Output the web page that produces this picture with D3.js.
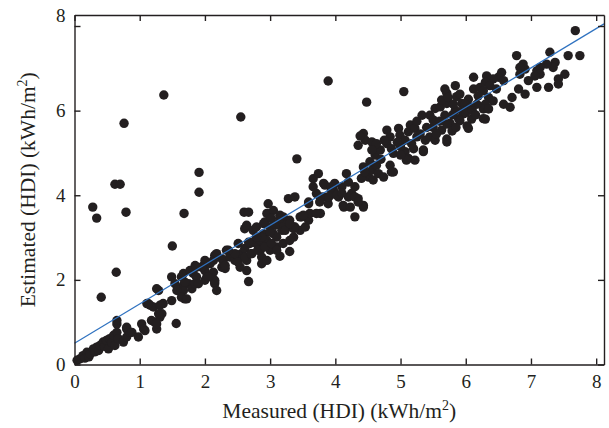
<!DOCTYPE html>
<html>
<head>
<meta charset="utf-8">
<script src="https://cdn.jsdelivr.net/npm/d3@7/dist/d3.min.js"></script>
<style>
  body { margin: 0; background: #fff; }
  svg { display: block; }
  .tick text { font-family: "Liberation Serif", "DejaVu Serif", serif; font-size: 19px; fill: #231f20; }
  .tick line, .domain { stroke: #231f20; stroke-width: 1.4; }
  .title { font-family: "Liberation Serif", "DejaVu Serif", serif; font-size: 21.5px; fill: #231f20; }
</style>
</head>
<body>
<div id="chart"></div>
<script>
'use strict';

// measured / estimated HDI (kWh/m2)
var measured = [
  0.28, 0.34, 0.41, 0.64, 0.62, 0.70, 0.79, 0.76, 1.37, 1.68, 1.91, 1.91, 1.50, 1.56, 2.55, 3.41, 3.89, 5.05, 4.48, 2.60,
  2.67, 2.64, 2.67, 2.97, 3.28,
  0.04, 0.08, 0.13, 0.16, 0.19, 0.22, 0.24, 0.29, 0.31, 0.34, 0.37, 0.39, 0.44, 0.46, 0.49, 0.54, 0.52, 0.57, 0.60, 0.62,
  0.65, 0.65, 0.65, 0.67, 0.75, 0.80, 0.80, 0.85, 0.80, 0.88, 0.98, 1.03, 1.06, 1.08, 1.11, 1.16, 1.21, 1.23, 1.26, 1.29,
  1.31, 1.34, 1.36, 1.18, 1.26, 1.29, 1.31, 1.13, 1.26, 1.49, 1.49, 1.64, 1.67, 1.67, 1.69, 1.75, 1.80, 1.82, 1.85, 1.98,
  2.00, 2.03, 2.15, 2.18, 2.15, 2.26, 2.26, 2.13, 1.54, 1.57, 1.64, 1.67, 1.69, 1.72, 1.77, 1.85, 1.87, 2.00, 2.13, 2.15,
  2.18, 2.28, 2.31, 2.38, 2.46, 2.51, 2.56, 2.61, 2.64, 2.69, 2.72, 2.74, 2.82, 2.85, 2.90, 2.95, 2.97, 3.00, 3.05, 3.10,
  3.13, 3.18, 3.20, 3.25, 3.30, 3.36, 3.38, 3.46, 3.56, 3.59, 2.61, 2.64, 2.74, 2.79, 2.90, 2.95, 3.05, 3.15, 2.54, 2.33,
  2.85, 2.87, 3.00, 3.10, 3.20, 3.30, 3.36, 3.46, 3.54, 3.59, 3.30, 3.15,
  3.66, 3.74, 3.66, 3.84, 3.94, 3.99, 4.10, 4.13, 3.89, 3.77, 3.59, 3.77, 3.61, 3.48, 3.38, 2.92, 3.02, 3.08, 3.20, 3.23,
  3.36, 2.87, 2.79, 2.67, 2.51, 2.46, 2.36, 2.08, 2.00, 1.95, 1.87, 2.15, 1.90, 2.05, 2.31, 2.51, 2.61, 2.71, 2.81, 2.92,
  3.02, 3.10, 2.87, 2.95, 4.05,
  3.82, 3.97, 4.17, 4.20, 4.25, 4.35, 4.43, 4.12, 4.30, 4.51, 4.56, 4.58, 4.66, 4.74, 4.86, 4.63, 4.53, 4.61, 4.69, 4.43,
  4.46, 4.56, 4.63, 4.79, 4.84, 4.79, 4.86, 4.89, 4.97, 4.99, 5.07, 5.12, 5.15, 5.22, 5.25, 5.17, 5.07, 5.12, 5.22, 5.35,
  5.38, 5.45, 5.33, 5.45, 5.50, 5.53, 5.61, 5.68, 5.71, 5.76, 5.63, 5.71, 5.53, 5.84, 5.89, 5.94, 5.86, 5.71, 5.63, 3.71,
  3.82, 3.89, 4.23, 4.84, 4.35, 4.56, 4.38, 4.43,
  7.68, 7.75, 7.57, 7.29, 7.37, 7.34, 7.52, 7.42, 7.42, 7.24, 7.14, 7.09, 7.14, 7.06, 6.96, 6.91, 6.88, 6.83, 6.78, 6.83,
  7.09, 7.27, 6.91, 6.81, 6.71, 6.58, 6.68, 6.55, 6.50, 6.58, 6.42, 6.32, 6.30, 6.37, 6.47, 6.12, 6.12, 6.22, 6.27, 6.19,
  6.35, 6.42, 6.30, 6.27, 6.35, 6.17, 6.04, 5.99, 6.07, 5.91, 5.84, 5.68, 5.73, 5.81, 5.96, 6.09, 5.91, 6.02, 5.71, 5.79,
  5.71, 6.30, 6.27, 6.04, 5.35, 5.09, 4.89,
  4.43, 3.94, 3.90, 4.02, 4.20, 4.30, 4.35, 3.51, 3.71, 3.76, 3.00, 3.15, 3.30,
  5.00, 5.20, 5.30, 5.50, 5.60, 5.80, 5.95, 6.00, 5.55, 5.85, 6.10, 6.15, 5.40, 5.25, 5.00, 4.95, 4.70, 4.75,
  4.30, 4.40, 4.45, 4.10
];
var estimated = [
  3.72, 3.46, 1.59, 2.18, 4.26, 4.26, 3.60, 5.70, 6.37, 3.57, 4.54, 4.07, 2.80, 0.97, 5.85, 4.86, 6.70, 6.45, 6.20, 3.60,
  3.60, 2.22, 1.96, 3.80, 3.92,
  0.10, 0.13, 0.21, 0.15, 0.29, 0.18, 0.25, 0.37, 0.30, 0.41, 0.33, 0.45, 0.53, 0.43, 0.57, 0.61, 0.37, 0.52, 0.69, 0.45,
  0.76, 0.96, 1.04, 0.61, 0.53, 0.65, 0.84, 0.76, 0.88, 0.76, 0.65, 0.96, 0.84, 0.80, 1.44, 1.40, 1.36, 1.00, 0.84, 1.75,
  1.12, 1.20, 1.44, 1.04, 0.96, 1.20, 1.40, 1.44, 1.79, 1.51, 2.07, 2.07, 1.87, 1.75, 1.55, 1.91, 1.79, 2.15, 2.34, 2.34,
  2.22, 2.07, 1.91, 1.75, 2.58, 2.50, 2.30, 2.18, 1.91, 1.75, 1.59, 2.15, 1.95, 1.55, 2.22, 1.91, 2.07, 1.99, 2.46, 1.95,
  2.62, 2.46, 2.27, 2.54, 2.46, 2.54, 2.62, 2.74, 2.46, 2.86, 2.62, 2.89, 2.78, 2.93, 3.09, 2.93, 2.78, 3.25, 3.09, 3.01,
  3.33, 3.17, 3.49, 3.25, 3.41, 3.25, 3.96, 3.49, 3.49, 3.80, 3.21, 3.29, 3.17, 3.25, 3.33, 3.57, 3.64, 3.53, 2.30, 2.70,
  2.70, 2.54, 2.70, 2.78, 2.86, 2.93, 3.01, 3.17, 3.25, 3.41, 2.67, 2.56,
  4.39, 4.51, 4.20, 4.24, 4.12, 4.28, 4.20, 3.72, 3.96, 3.96, 3.84, 3.57, 3.57, 3.49, 3.25, 3.37, 3.45, 3.29, 3.33, 3.17,
  3.21, 3.01, 3.01, 2.89, 2.86, 2.62, 2.70, 2.38, 2.46, 2.30, 2.30, 1.99, 1.91, 2.07, 2.34, 2.42, 2.54, 2.62, 2.70, 2.78,
  2.86, 2.70, 2.38, 2.46, 3.96,
  4.28, 4.12, 4.51, 4.31, 4.04, 3.92, 3.76, 3.76, 3.49, 4.43, 4.59, 4.36, 4.51, 4.43, 4.55, 4.71, 4.79, 4.95, 5.07, 5.46,
  5.30, 5.26, 5.22, 5.54, 5.38, 5.22, 5.10, 4.99, 5.58, 5.42, 5.30, 5.50, 5.66, 5.58, 5.38, 5.22, 5.03, 4.87, 4.83, 5.03,
  5.30, 5.38, 5.89, 5.89, 5.78, 6.05, 6.09, 5.89, 6.17, 5.70, 5.54, 5.26, 5.30, 6.01, 5.81, 6.17, 6.33, 6.41, 6.25, 4.04,
  3.96, 3.80, 3.72, 4.71, 5.18, 5.07, 5.40, 4.67,
  7.89, 7.30, 7.30, 7.38, 7.14, 7.02, 6.86, 6.75, 6.63, 7.10, 7.02, 6.94, 6.86, 6.82, 6.71, 6.98, 7.10, 7.02, 7.30, 6.86,
  6.55, 6.55, 6.39, 6.51, 6.31, 6.15, 6.08, 6.90, 6.79, 6.71, 6.75, 6.82, 6.67, 6.59, 6.51, 6.79, 6.51, 6.55, 6.47, 6.35,
  6.31, 6.23, 6.15, 6.04, 6.04, 6.15, 6.27, 6.15, 6.08, 6.39, 6.59, 6.51, 6.31, 6.15, 5.92, 5.80, 5.76, 5.64, 5.68, 5.52,
  5.33, 5.80, 5.81, 5.58, 5.07, 4.83, 4.55,
  3.72, 4.20, 3.96, 4.00, 3.96, 3.96, 3.84, 3.53, 3.57, 3.84, 3.13, 3.45, 3.33,
  5.15, 5.10, 5.45, 5.60, 5.75, 5.90, 6.00, 5.95, 5.45, 5.60, 6.00, 5.90, 5.60, 5.75, 4.95, 5.25, 4.85, 5.30,
  4.20, 4.40, 4.55, 4.05
];

// least-squares fit line drawn in the reference
var fitX = [0, 8.12];
var fitY = [0.50, 8.05];

var xTicks = [0, 1, 2, 3, 4, 5, 6, 7, 8];
var yTicks = [0, 2, 4, 6, 8];

var width = 609, height = 428;
var margin = { top: 15, right: 5, bottom: 63.5, left: 74.5 };
var innerW = width - margin.left - margin.right,
    innerH = height - margin.top - margin.bottom;

var svg = d3.select('#chart').append('svg')
    .attr('width', width)
    .attr('height', height);

var g = svg.append('g')
    .attr('transform', 'translate(' + margin.left + ',' + margin.top + ')');

var x = d3.scaleLinear().domain([0, 8.12]).range([0, innerW]);
var y = d3.scaleLinear().domain([0, 8.26]).range([innerH, 0]);

var pts = measured.map(function(m, i) { return { x: m, y: estimated[i] }; });

g.selectAll('circle.dot')
    .data(pts)
    .enter().append('circle')
    .attr('class', 'dot')
    .attr('cx', function(d) { return x(d.x); })
    .attr('cy', function(d) { return y(d.y); })
    .attr('r', 4.7)
    .attr('fill', '#231f20');

var fit = fitX.map(function(v, i) { return [v, fitY[i]]; });
g.append('path')
    .datum(fit)
    .attr('fill', 'none')
    .attr('stroke', '#2f72c0')
    .attr('stroke-width', 1.2)
    .attr('d', d3.line().x(function(d) { return x(d[0]); }).y(function(d) { return y(d[1]); }));

//axes with inward ticks on all four sides
g.append('g')
    .attr('transform', 'translate(0,' + innerH + ')')
    .call(d3.axisBottom(x).tickValues(xTicks).tickSizeInner(-6).tickSizeOuter(0).tickPadding(10).tickFormat(d3.format('d')));
g.append('g')
    .call(d3.axisTop(x).tickValues(xTicks).tickSizeInner(-6).tickSizeOuter(0).tickFormat(''));
var yAxis = g.append('g')
    .call(d3.axisLeft(y).tickValues(yTicks).tickSizeInner(-6).tickSizeOuter(0).tickPadding(9).tickFormat(d3.format('d')));
g.append('g')
    .attr('transform', 'translate(' + innerW + ',0)')
    .call(d3.axisRight(y).tickValues(yTicks).tickSizeInner(-6).tickSizeOuter(0).tickFormat(''));

// the top label sits at the frame edge in the reference
yAxis.selectAll('.tick')
    .filter(function(d) { return d === 8; })
    .select('text')
    .attr('dy', (y(8.26) - y(8) + 0.32 * 19) + 'px');

var xt = svg.append('text')
    .attr('class', 'title')
    .attr('text-anchor', 'middle')
    .attr('x', margin.left + innerW / 2)
    .attr('y', 418);
xt.append('tspan').text('Measured (HDI) (kWh/m');
xt.append('tspan').attr('font-size', '14px').attr('dy', '-8').text('2');
xt.append('tspan').attr('dy', '8').text(')');

var yt = svg.append('text')
    .attr('class', 'title')
    .attr('text-anchor', 'middle')
    .attr('transform', 'translate(35,' + (margin.top + innerH / 2) + ') rotate(-90)');
yt.append('tspan').text('Estimated (HDI) (kWh/m');
yt.append('tspan').attr('font-size', '14px').attr('dy', '-8').text('2');
yt.append('tspan').attr('dy', '8').text(')');
</script>
</body>
</html>
